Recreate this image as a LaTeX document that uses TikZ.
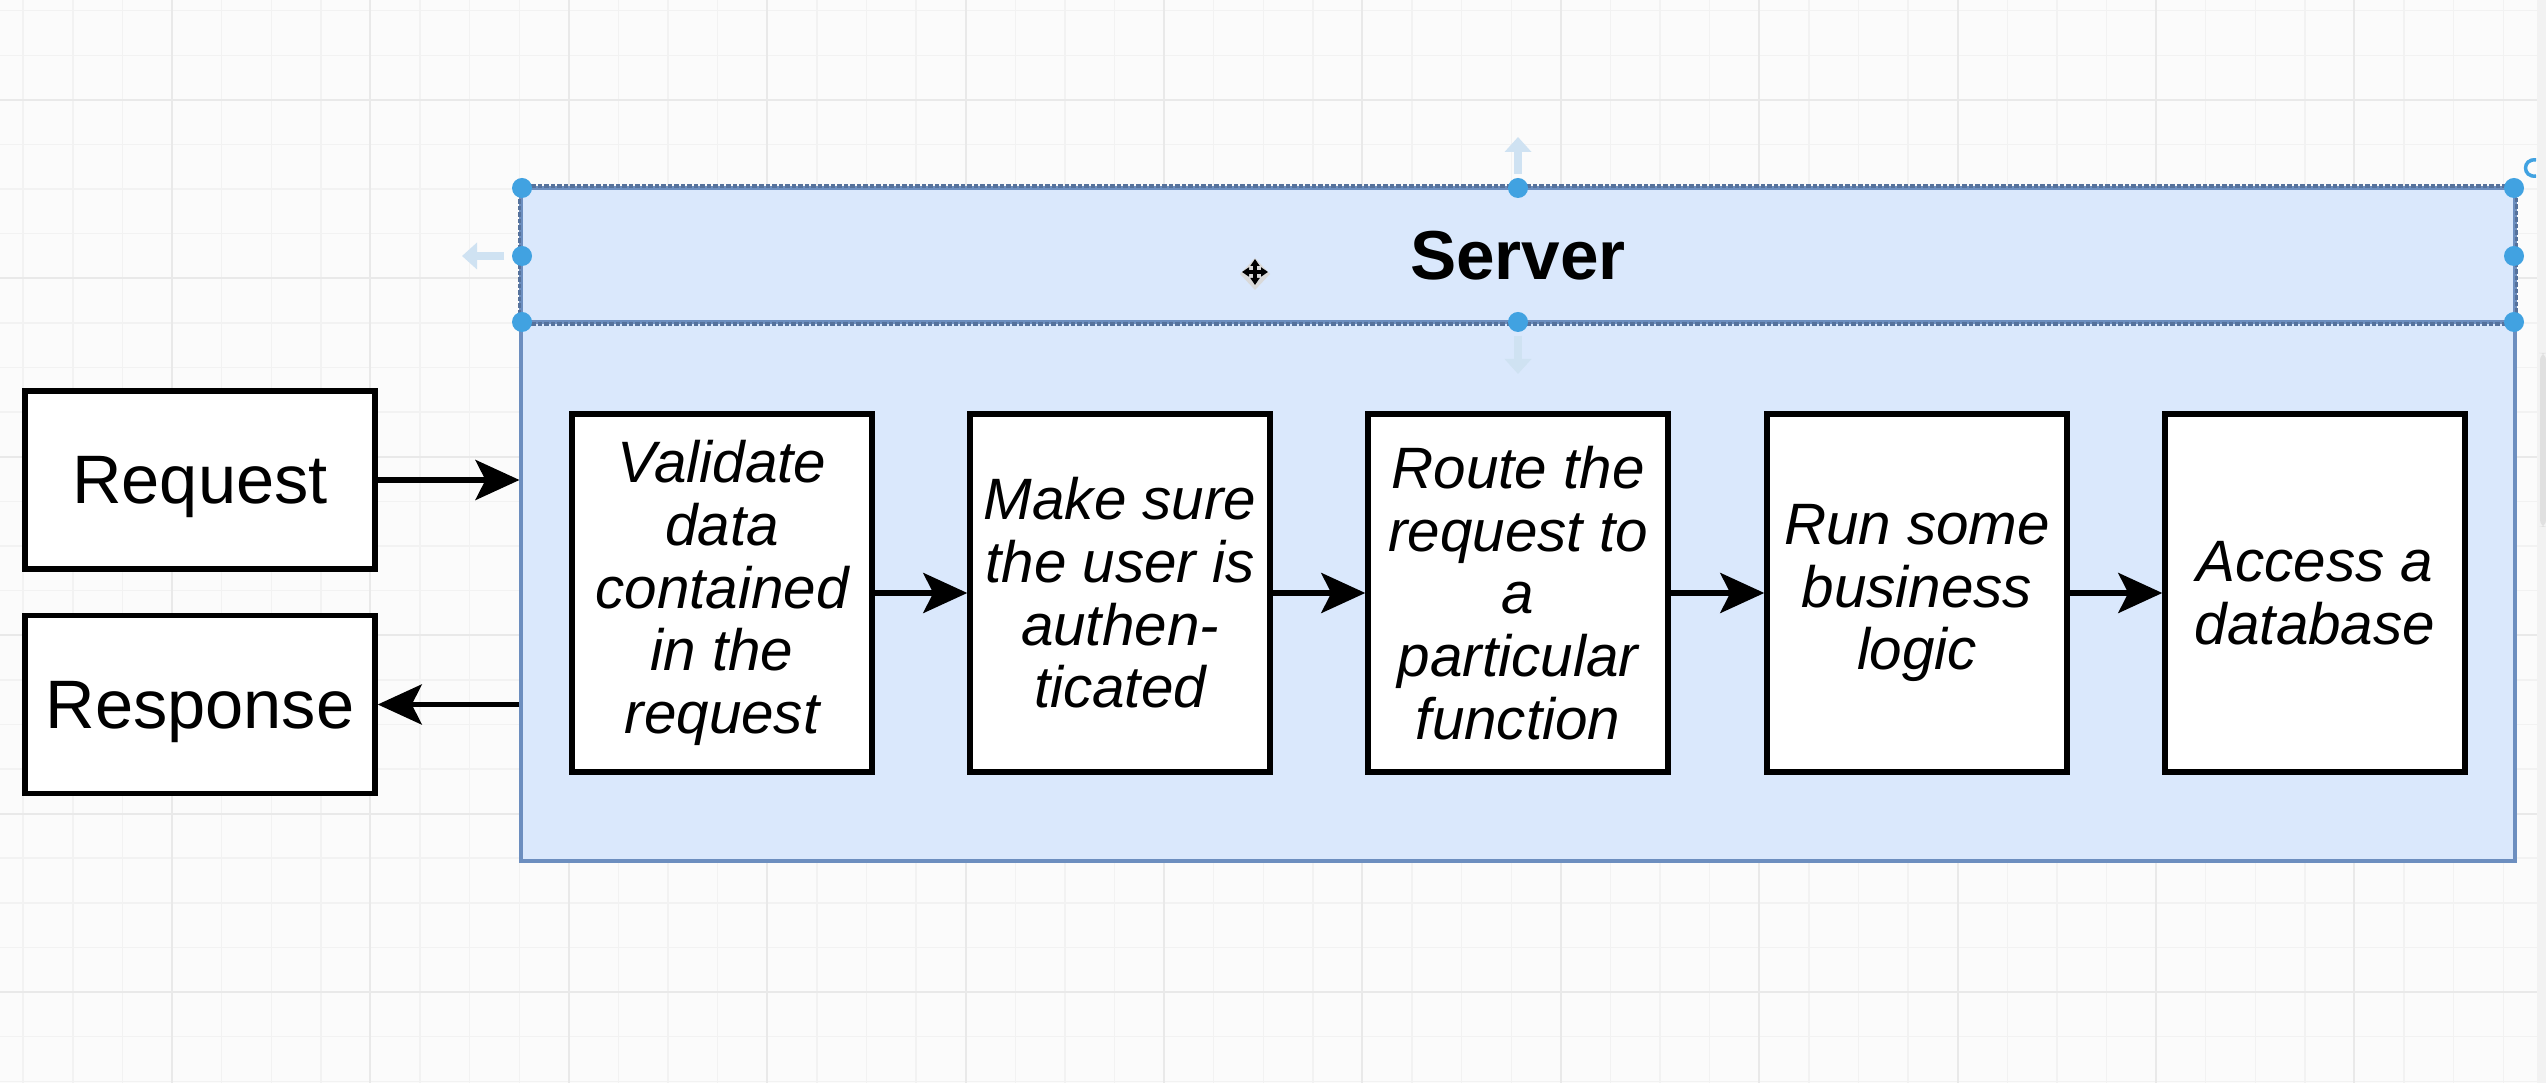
\documentclass[tikz,border=0pt]{standalone}
\usepackage{fontspec}
\setmainfont{Liberation Sans}
\usepackage{xcolor}
\usetikzlibrary{arrows.meta}

\definecolor{srvfill}{HTML}{DAE8FC}
\definecolor{srvline}{HTML}{6C8EBF}
\definecolor{selline}{HTML}{56729C}
\definecolor{handleblue}{HTML}{41A2E1}
\definecolor{ghostblue}{HTML}{CFE2F2}
\definecolor{canvasbg}{HTML}{FBFBFB}
\definecolor{gridminor}{HTML}{F2F2F2}
\definecolor{gridmajor}{HTML}{E9E9E9}

\begin{document}
\begin{tikzpicture}[x=0.01cm, y=-0.01cm,
            endbox/.style={draw, line width=1.5pt, fill=white, inner sep=0pt, text depth=0pt,
                minimum width=3.5cm, minimum height=1.78cm, font=\fontsize{19.5}{23}\selectfont},
            stepbox/.style={draw, line width=1.5pt, fill=white, inner sep=0pt, align=center,
                minimum width=3cm, minimum height=3.58cm, font=\fontsize{16.6}{17.8}\selectfont\itshape},
            flow/.style={line width=1.5pt, -{Stealth[length=0.44cm, width=0.4cm, inset=0.1cm]}},
            handle/.style={shape=circle, fill=handleblue, inner sep=0pt, minimum size=0.2cm},
            ghost/.style={color=ghostblue, line width=0.08cm, -{Triangle[length=0.15cm, width=0.26cm]}}]
        % canvas and grid
        \fill[canvasbg] (0,0) rectangle (2546,1083);
        \useasboundingbox (0,0) rectangle (2546,1083);
        \foreach \gx in {23.2,72.8,...,2546} \draw[gridminor, line width=0.4pt] (\gx,0) -- (\gx,1083);
        \foreach \gy in {10.8,55.4,...,1083} \draw[gridminor, line width=0.4pt] (0,\gy) -- (2546,\gy);
        \foreach \gx in {172,370.4,...,2546} \draw[gridmajor, line width=0.6pt] (\gx,0) -- (\gx,1083);
        \foreach \gy in {100,278.4,...,1083} \draw[gridmajor, line width=0.6pt] (0,\gy) -- (2546,\gy);
        \fill[color=black!5] (2537,0) rectangle (2546,1083);
        \fill[color=black!12, rounded corners=2pt] (2540,353) rectangle (2546,527);

        % server container
        \node[draw=srvline, fill=srvfill, line width=1.1pt, inner sep=0pt,
            minimum width=19.92cm, minimum height=6.73cm] (srv) at (1518,524.5) {};
        \node[draw=srvline, line width=1.1pt, inner sep=0pt, minimum width=19.92cm, minimum height=1.34cm,
            text depth=0pt, font=\fontsize{19.7}{23}\selectfont\bfseries] (srvhead) at (1518,255) {Server};
        \draw[color=selline, line width=0.035cm, dash pattern=on 0.045cm off 0.02cm]
            (srvhead.north west) rectangle (srvhead.south east);

        % request and response
        \node[endbox] (req) at (200,480) {Request};
        \node[endbox] (resp) at (200,704.5) {Response};
        \draw[flow] (req.east) -- (req.east -| srv.west);
        \draw[flow] (resp.east -| srv.west) -- (resp.east);

        % steps inside the server
        \node[stepbox] (v1) at (722,593) {Validate\\data\\contained\\in the\\request};
        \node[stepbox] (v2) at (1120,593) {Make sure\\the user is\\authen-\\ticated};
        \node[stepbox] (v3) at (1518,593) {Route the\\request to\\a\\particular\\function};
        \node[stepbox] (v4) at (1917,593) {Run some\\business\\logic};
        \node[stepbox] (v5) at (2315,593) {Access a\\database};
        \draw[flow] (v1.east) -- (v2.west);
        \draw[flow] (v2.east) -- (v3.west);
        \draw[flow] (v3.east) -- (v4.west);
        \draw[flow] (v4.east) -- (v5.west);

        % selection handles
        \draw[ghost] (1518,174) -- (1518,137);
        \draw[ghost] (1518,336) -- (1518,374);
        \draw[ghost] (504,256) -- (462,256);
        \foreach \hx/\hy [count=\i] in {522/188, 1518/188, 2514/188, 522/256, 2514/256, 522/322, 1518/322, 2514/322}
            \node[handle] (h\i) at (\hx,\hy) {};
        \draw[color=handleblue, line width=0.035cm] (2536,160) .. controls (2522,158) and (2522,178) .. (2536,176);

        % move cursor
        \fill[color=black!15] (1255,258) -- (1270,274) -- (1255,290) -- (1240,274) -- cycle;
        \draw[line width=0.035cm, {Triangle[length=0.07cm, width=0.09cm]}-{Triangle[length=0.07cm, width=0.09cm]}] (1242,272) -- (1268,272);
        \draw[line width=0.035cm, {Triangle[length=0.07cm, width=0.09cm]}-{Triangle[length=0.07cm, width=0.09cm]}] (1255,259) -- (1255,285);
    \end{tikzpicture}
\end{document}
